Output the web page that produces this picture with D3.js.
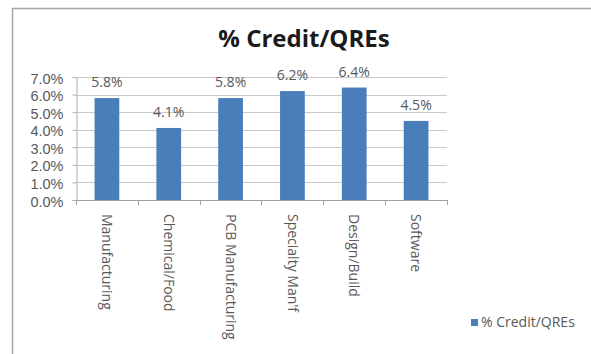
<!DOCTYPE html>
<html>
<head>
<meta charset="utf-8">
<script src="https://cdn.jsdelivr.net/npm/d3@7"></script>
<style>
  html, body { margin: 0; padding: 0; background: #fff; }
  svg { display: block; }
  text { font-family: "Open Sans", "Noto Sans", sans-serif; }
</style>
</head>
<body>
<svg id="chart" width="591" height="354"></svg>
<script>
const categories = ["Manufacturing", "Chemical/Food", "PCB Manufacturing", "Specialty Man'f", "Design/Build", "Software"];
const values = [0.058, 0.041, 0.058, 0.062, 0.064, 0.045];
const yTicks = [0, 0.01, 0.02, 0.03, 0.04, 0.05, 0.06, 0.07];
const seriesName = "% Credit/QREs";
const chartTitle = "% Credit/QREs";

const svg = d3.select("#chart");
const W = 591, H = 354;
const plot = { left: 76, right: 447, top: 77, bottom: 200 };
const barColor = "#4a7ebb";
const textColor = "#595959";

// frame
svg.append("rect").attr("x", 0).attr("y", 0).attr("width", W).attr("height", H).attr("fill", "#fff");
svg.append("path")
  .attr("d", `M12.5,${H} L12.5,8.5 L${W},8.5`)
  .attr("fill", "none").attr("stroke", "#a6a6a6").attr("stroke-width", 1.5);

const x = d3.scaleBand().domain(categories).range([plot.left, plot.right])
  .paddingInner(0.6).paddingOuter(0.3);
const y = d3.scaleLinear().domain([0, 0.07]).range([plot.bottom, plot.top]);

// gridlines
svg.append("g").selectAll("line").data(yTicks.filter(d => d > 0)).join("line")
  .attr("x1", plot.left).attr("x2", plot.right)
  .attr("y1", d => Math.round(y(d)) + 0.5).attr("y2", d => Math.round(y(d)) + 0.5)
  .attr("stroke", "#c9c9c9").attr("stroke-width", 1);

// y axis
const yAxis = d3.axisLeft(y).tickValues(yTicks).tickFormat(d3.format(".1%")).tickSize(4).tickPadding(9);
const gy = svg.append("g").attr("transform", `translate(${plot.left + 0.5},0)`).call(yAxis);
gy.select(".domain").attr("stroke", "#b0b0b0");
gy.selectAll(".tick line").attr("stroke", "#b0b0b0");
gy.selectAll(".tick text").attr("fill", textColor)
  .style("font-family", "'Liberation Sans', Arial, sans-serif")
  .style("font-size", "14.5px").attr("dy", "0.42em");

// bars
svg.append("g").selectAll("rect").data(values).join("rect")
  .attr("x", (d, i) => x(categories[i]))
  .attr("y", d => y(d))
  .attr("width", x.bandwidth())
  .attr("height", d => y(0) - y(d))
  .attr("fill", barColor);

// x axis baseline and ticks
svg.append("line")
  .attr("x1", plot.left).attr("x2", plot.right)
  .attr("y1", plot.bottom + 0.5).attr("y2", plot.bottom + 0.5)
  .attr("stroke", "#a0a0a0");
const bounds = categories.map(c => x(c) + x.bandwidth() / 2 - x.step() / 2)
  .concat([x(categories[categories.length - 1]) + x.bandwidth() / 2 + x.step() / 2]);
svg.append("g").selectAll("line").data(bounds).join("line")
  .attr("x1", d => Math.round(d) + 0.5).attr("x2", d => Math.round(d) + 0.5)
  .attr("y1", plot.bottom).attr("y2", plot.bottom + 5)
  .attr("stroke", "#a0a0a0");

// category labels rotated
svg.append("g").selectAll("text").data(categories).join("text")
  .attr("transform", d => `translate(${x(d) + x.bandwidth() / 2},${plot.bottom + 14}) rotate(90)`)
  .attr("text-anchor", "start")
  .attr("dy", "0.35em")
  .attr("fill", textColor)
  .style("font-size", "14px")
  .text(d => d);

// data labels
svg.append("g").selectAll("text").data(values).join("text")
  .attr("x", (d, i) => x(categories[i]) + x.bandwidth() / 2)
  .attr("y", d => y(d) - 11)
  .attr("text-anchor", "middle")
  .attr("fill", textColor)
  .style("font-size", "14px")
  .text(d => d3.format(".1%")(d));

// title
svg.append("text")
  .attr("x", 304).attr("y", 47)
  .attr("text-anchor", "middle")
  .attr("fill", "#1a1a1a")
  .style("font-size", "24px").style("font-weight", "bold")
  .text(chartTitle);

// legend
const lg = svg.append("g").attr("transform", "translate(471,319)");
lg.append("rect").attr("width", 7).attr("height", 7).attr("fill", barColor);
lg.append("text").attr("x", 10).attr("y", 3.5).attr("dy", "0.35em")
  .attr("fill", textColor).style("font-size", "14px").text(seriesName);
</script>
</body>
</html>
